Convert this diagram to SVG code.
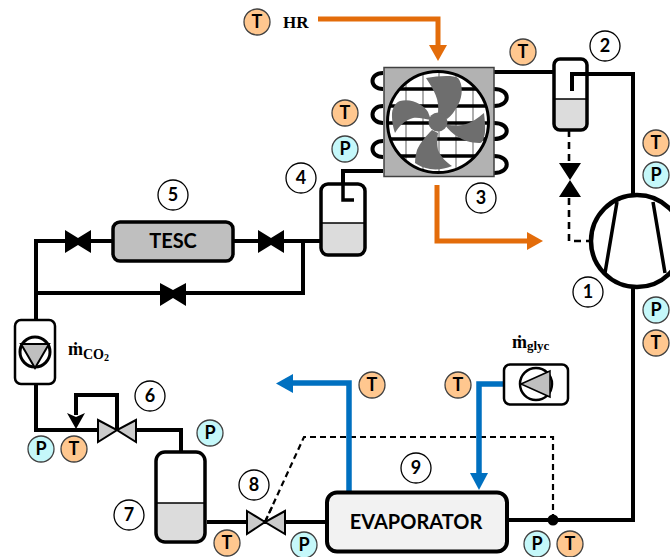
<svg xmlns="http://www.w3.org/2000/svg" width="670" height="557" viewBox="0 0 670 557">
<style>
.pipe{fill:none;stroke:#000;stroke-width:4;stroke-linejoin:miter}
.thin{fill:none;stroke:#000;stroke-width:2.6;stroke-dasharray:7 5}
.ctl{fill:none;stroke:#000;stroke-width:2.2;stroke-dasharray:6 4}
.or{fill:none;stroke:#E36C0A;stroke-width:5}
.bl{fill:none;stroke:#0070C0;stroke-width:5.500}
.t{fill:#FFC78F;stroke:#404040;stroke-width:1.3}
.p{fill:#C5F8FA;stroke:#404040;stroke-width:1.3}
.n{fill:#fff;stroke:#000;stroke-width:1.3}
.tx{font-family:Lato,"Open Sans",sans-serif;font-weight:700;font-size:18px;text-anchor:middle;fill:#000}
.lb{font-family:Lato,"Open Sans",sans-serif;font-weight:700;text-anchor:middle;fill:#000}
.sf{font-family:"Liberation Serif",serif;font-weight:700;fill:#000}
.liq{fill:#DCDCDC}
.vb{fill:#000;stroke:none}
.vg{fill:#CBCBCB;stroke:#000;stroke-width:2}
</style>
<g id="connectors">
<path class="pipe" d="M494 72H553M572 91V74H633V195M633 287V520H508M326 522H207M181 451V430H137M97 430H36V385M36 320V241H320M36 293H303V241M343 200V171H383M354 200H343"/>
<path class="pipe" d="M117 430V395H76V415"/>
<path class="vb" d="M67 413L76 429L85 413L76 417Z"/>
<path class="thin" d="M569 130V163M569 198V241H591"/>
<path class="ctl" d="M553 520V437H304L265 522"/>
<circle cx="553" cy="520" r="5.500" fill="#000"/>
<path class="or" d="M318 19H438V46"/>
<path d="M429 45H447L438 61Z" fill="#E36C0A"/>
<path class="or" d="M437 185V241H527"/>
<path d="M527 232V250L543 241Z" fill="#E36C0A"/>
<path class="bl" d="M349 492V383H292"/>
<path d="M293 374V393L276 383.500Z" fill="#0070C0"/>
<path class="bl" d="M503 384H479V474"/>
<path d="M470 473H488L479 490Z" fill="#0070C0"/>
</g>
<g id="node-3-condenser">
<path d="M383 73C369 73 369 89 383 89M383 106C369 106 369 123 383 123M383 141C369 141 369 157 383 157" fill="none" stroke="#000" stroke-width="4"/>
<path d="M494 89C511 89 511 106 494 106M494 123C511 123 511 139 494 139M494 156C511 156 511 173 494 173" fill="none" stroke="#000" stroke-width="4"/>
<rect x="384" y="67.500" width="110" height="109" fill="#B2B2B2" stroke="#404040" stroke-width="1.500"/>
<circle cx="438" cy="122" r="51" fill="#fff"/>
<clipPath id="fanclip"><circle cx="438" cy="122" r="50"/></clipPath>
<g clip-path="url(#fanclip)">
<path d="M406 70V175M423 70V175M439 70V175M456 70V175M473 70V175" stroke="#A6A6A6" stroke-width="1.800" fill="none"/>
<path d="M385 89H491M385 106H491M385 123H491M385 139H491M385 156H491" stroke="#000" stroke-width="3.500" fill="none"/>
</g>
<circle cx="438" cy="122" r="50.500" fill="none" stroke="#000" stroke-width="3"/>
<path fill="#6E6E6E" d="M426 78C438 76 453 75 458 78C463 84 463 96 458 105C455 111 451 116 447 119L438 114C440 100 434 90 426 78Z"/>
<path fill="#6E6E6E" d="M395 133C392 125 391 112 393 109C395 104 397 102 400 101C412 98 424 105 428 112L431 120C424 119 418 117 413 118C405 120 399 126 395 133Z"/>
<path fill="#6E6E6E" d="M484 113C485 122 486 132 484 137C483 141 482 143 479 143C471 143 463 140 458 137C453 134 448 129 445 125C452 125 458 126 463 125C471 123 478 118 484 113Z"/>
<path fill="#6E6E6E" d="M432 130L438 133C437 139 437 145 438 150C441 157 446 162 452 166C445 169 437 170 430 169C424 168 419 166 415 163C415 158 416 154 417 150C420 143 426 136 432 130Z"/>
<circle cx="438" cy="122" r="9.500" fill="#6E6E6E"/>
</g>
<g id="node-2-separator">
<rect x="554" y="59" width="33" height="71" rx="6" fill="#fff"/>
<path class="liq" d="M555 99H586V124Q586 129 581 129H560Q555 129 555 124Z"/>
<path d="M554 99H587" stroke="#000" stroke-width="1.300"/>
<rect x="554" y="59" width="33" height="71" rx="6" fill="none" stroke="#000" stroke-width="3.500"/>
<path d="M572 91V74H590" fill="none" stroke="#000" stroke-width="4"/>
</g>
<g id="valve-2"><path class="vb" d="M559 163H581L559 197H581Z"/></g>
<g id="node-1-compressor">
<circle cx="637" cy="241" r="46" fill="#fff" stroke="#000" stroke-width="4.500"/>
<path d="M617 202L605 273M653 202L665 273" stroke="#000" stroke-width="3.500" fill="none"/>
</g>
<g id="node-4-tank">
<rect x="321" y="184" width="44" height="71" rx="7" fill="#fff"/>
<path class="liq" d="M322 223H364V248Q364 254 358 254H328Q322 254 322 248Z"/>
<path d="M321 223H365" stroke="#000" stroke-width="1.300"/>
<rect x="321" y="184" width="44" height="71" rx="7" fill="none" stroke="#000" stroke-width="3.500"/>
<path d="M354 200H343V171H360" fill="none" stroke="#000" stroke-width="3.500"/>
</g>
<g id="node-5-tesc">
<rect x="113" y="222" width="120" height="39" rx="7" fill="#BFBFBF" stroke="#000" stroke-width="3.500"/>
<text class="lb" x="173" y="248" font-size="20" fill="#1a1a1a">TESC</text>
</g>
<g id="valves-tesc">
<path class="vb" d="M65 230L78 238L91 230V253L78 245L65 253Z"/>
<path class="vb" d="M258 230L271 238L284 230V253L271 245L258 253Z"/>
<path class="vb" d="M160 283L173 290L186 283V306L173 298L160 306Z"/>
</g>
<g id="pump-co2">
<rect x="15" y="320" width="40" height="64" rx="6" fill="#fff" stroke="#000" stroke-width="2.500"/>
<circle cx="35" cy="352" r="15" fill="#fff" stroke="#000" stroke-width="3"/>
<path d="M21 344H49L35 368Z" fill="#BFBFBF" stroke="#000" stroke-width="2"/>
</g>
<g id="node-6-valve"><path class="vg" d="M98 420L117 430L98 442ZM136 420L117 430L136 442Z"/></g>
<g id="node-7-tank">
<rect x="156" y="452" width="49" height="90" rx="9" fill="#fff"/>
<path class="liq" d="M157 503H204V533Q204 540 197 540H164Q157 540 157 533Z"/>
<path d="M156 503H205" stroke="#000" stroke-width="1.300"/>
<rect x="156" y="452" width="49" height="90" rx="9" fill="none" stroke="#000" stroke-width="3.500"/>
</g>
<g id="node-8-valve"><path class="vg" d="M247 511L265 522L247 534ZM285 511L265 522L285 534Z"/><path class="ctl" d="M272 507L265 522"/></g>
<g id="node-9-evaporator">
<rect x="327" y="492.500" width="180" height="59" rx="10" fill="#F2F2F2" stroke="#000" stroke-width="4"/>
<text class="lb" x="416" y="529" font-size="20">EVAPORATOR</text>
</g>
<g id="pump-glyc">
<rect x="504" y="364.500" width="64" height="40" rx="6" fill="#fff" stroke="#000" stroke-width="2.500"/>
<circle cx="536" cy="384" r="16" fill="#fff" stroke="#000" stroke-width="2.500"/>
<path d="M521 384L550 371V397Z" fill="#BFBFBF" stroke="#000" stroke-width="1.500"/>
</g>
<g id="sensors">
<circle class="t" cx="257" cy="22" r="13"/><text class="tx" x="257" y="28">T</text>
<circle class="t" cx="523" cy="52" r="13"/><text class="tx" x="523" y="58">T</text>
<circle class="t" cx="345" cy="113" r="13"/><text class="tx" x="345" y="119">T</text>
<circle class="p" cx="345" cy="149" r="13"/><text class="tx" x="345" y="155">P</text>
<circle class="t" cx="656" cy="143" r="13"/><text class="tx" x="656" y="149">T</text>
<circle class="p" cx="656" cy="175" r="13"/><text class="tx" x="656" y="181">P</text>
<circle class="p" cx="656" cy="310" r="13"/><text class="tx" x="656" y="316">P</text>
<circle class="t" cx="656" cy="343" r="13"/><text class="tx" x="656" y="349">T</text>
<circle class="p" cx="41" cy="449" r="13"/><text class="tx" x="41" y="455">P</text>
<circle class="t" cx="74" cy="449" r="13"/><text class="tx" x="74" y="455">T</text>
<circle class="p" cx="210" cy="433" r="13"/><text class="tx" x="210" y="439">P</text>
<circle class="t" cx="227" cy="543" r="13"/><text class="tx" x="227" y="549">T</text>
<circle class="p" cx="304" cy="545" r="13"/><text class="tx" x="304" y="551">P</text>
<circle class="p" cx="537" cy="544" r="13"/><text class="tx" x="537" y="550">P</text>
<circle class="t" cx="570" cy="544" r="13"/><text class="tx" x="570" y="550">T</text>
<circle class="t" cx="372" cy="385" r="13"/><text class="tx" x="372" y="391">T</text>
<circle class="t" cx="458" cy="385" r="13"/><text class="tx" x="458" y="391">T</text>
</g>
<g id="numbers">
<circle class="n" cx="605" cy="46" r="15"/><text class="tx" x="605" y="52">2</text>
<circle class="n" cx="481" cy="198" r="15"/><text class="tx" x="481" y="204">3</text>
<circle class="n" cx="301" cy="178" r="15"/><text class="tx" x="301" y="184">4</text>
<circle class="n" cx="173" cy="195" r="15"/><text class="tx" x="173" y="201">5</text>
<circle class="n" cx="588" cy="292" r="15"/><text class="tx" x="588" y="298">1</text>
<circle class="n" cx="150" cy="396" r="15"/><text class="tx" x="150" y="402">6</text>
<circle class="n" cx="129" cy="515" r="15"/><text class="tx" x="129" y="521">7</text>
<circle class="n" cx="254" cy="485" r="15"/><text class="tx" x="254" y="491">8</text>
<circle class="n" cx="416" cy="468" r="15"/><text class="tx" x="416" y="474">9</text>
</g>
<g id="labels">
<text class="sf" x="283" y="28" font-size="17">HR</text>
<text class="sf" x="68" y="355" font-size="18">ṁ<tspan font-size="14" dy="4">CO</tspan><tspan font-size="10" dy="2">2</tspan></text>
<text class="sf" x="512" y="348" font-size="18">ṁ<tspan font-size="13" dy="2">glyc</tspan></text>
</g>
</svg>
